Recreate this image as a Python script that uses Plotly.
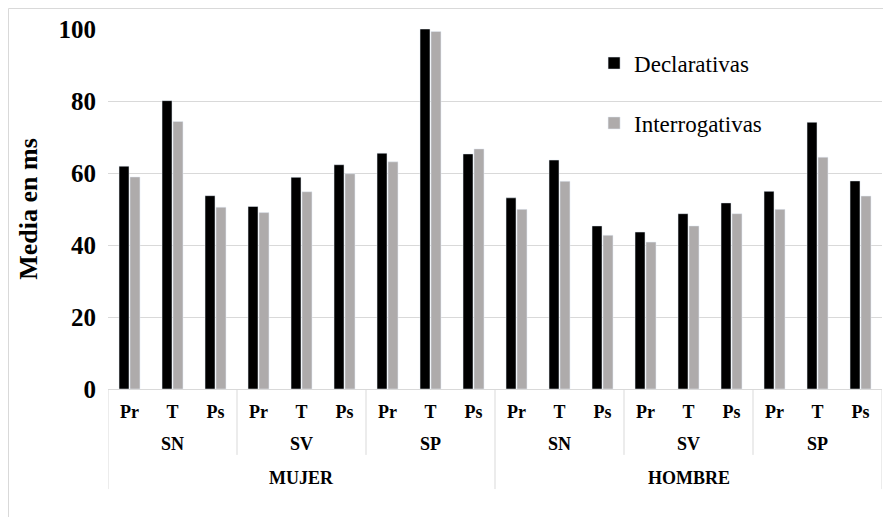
import plotly.graph_objects as go

# ---- data ----
sexo = ["MUJER", "HOMBRE"]
sintagma = ["SN", "SV", "SP"]
posicion = ["Pr", "T", "Ps"]
series_names = ["Declarativas", "Interrogativas"]

declarativas = [61.9, 80.1, 53.7, 50.7, 58.8, 62.3, 65.5, 100.0, 65.3,
                53.1, 63.6, 45.3, 43.6, 48.7, 51.7, 54.9, 74.1, 57.8]
interrogativas = [58.9, 74.3, 50.5, 49.0, 54.8, 59.8, 63.1, 99.3, 66.7,
                  49.9, 57.7, 42.7, 40.8, 45.3, 48.7, 49.9, 64.4, 53.6]

n_pos = len(posicion)
n_sint = len(sintagma)
n = len(declarativas)
xs = list(range(n))
tick_text = [posicion[i % n_pos] for i in xs]

FONT = "Liberation Serif"
GRID = "#D9D9D9"
BLACK = "#000000"
GRAY = "#AEABAB"

# page body has an 8px margin, so layout is offset to compensate
L, R, T, B = 100, 9, 21, 128
PW, PH = 774, 360

fig = go.Figure()
fig.add_trace(go.Bar(x=xs, y=declarativas, name=series_names[0],
                     marker=dict(color=BLACK), legendgroup="d"))
fig.add_trace(go.Bar(x=xs, y=interrogativas, name=series_names[1],
                     marker=dict(color=GRAY), legendgroup="i"))

annotations = []
shapes = []
for g in range(n // n_pos):
    c = g * n_pos + (n_pos - 1) / 2
    annotations.append(dict(x=c, xref="x", y=-0.153, yref="paper", yanchor="middle",
                            text="<b>%s</b>" % sintagma[g % n_sint],
                            showarrow=False, font=dict(family=FONT, size=18, color="black")))
blk = n_pos * n_sint
for s in range(len(sexo)):
    c = s * blk + (blk - 1) / 2
    annotations.append(dict(x=c, xref="x", y=-0.247, yref="paper", yanchor="middle",
                            text="<b>%s</b>" % sexo[s],
                            showarrow=False, font=dict(family=FONT, size=18, color="black")))
for k in range(0, n + 1, n_pos):
    xb = k - 0.5
    y1 = -0.278 if k % blk == 0 else -0.183
    shapes.append(dict(type="line", xref="x", yref="paper", x0=xb, x1=xb,
                       y0=0, y1=y1, line=dict(color=GRID, width=1)))
shapes.append(dict(type="rect", xref="paper", yref="paper",
                   x0=-(L - 0.5) / PW, x1=1.05, y0=-0.45, y1=1 + (T - 0.5) / PH,
                   line=dict(color=GRID, width=1), layer="below"))

fig.update_layout(
    width=L + PW + R, height=T + PH + B,
    margin=dict(l=L, r=R, t=T, b=B),
    paper_bgcolor="white", plot_bgcolor="white",
    barmode="group", bargap=0.49, bargroupgap=0.09,
    font=dict(family=FONT, color="black"),
    showlegend=True,
    legend=dict(x=0.628, y=0.965, xanchor="left", yanchor="top",
                font=dict(family=FONT, size=23, color="black"),
                tracegroupgap=27, bgcolor="rgba(0,0,0,0)"),
    annotations=annotations,
    shapes=shapes,
    xaxis=dict(range=[-0.5, n - 0.5], tickmode="array", tickvals=xs,
               ticktext=["<b>%s</b>" % t for t in tick_text],
               tickfont=dict(family=FONT, size=18, color="black"),
               showline=True, linecolor=GRID, linewidth=1,
               showgrid=False, ticks="", zeroline=False,
               ticklabelstandoff=6, automargin=False),
    yaxis=dict(range=[0, 100], tickvals=[0, 20, 40, 60, 80, 100],
               ticktext=["<b>%d</b>" % v for v in [0, 20, 40, 60, 80, 100]],
               tickfont=dict(family=FONT, size=25, color="black"),
               showgrid=True, gridcolor=GRID, gridwidth=1,
               zeroline=False, showline=False, ticks="",
               ticklabelstandoff=11, automargin=False,
               title=dict(text="<b>Media en ms</b>",
                          font=dict(family=FONT, size=26, color="black"),
                          standoff=13)),
)

fig.write_html("out.html")
